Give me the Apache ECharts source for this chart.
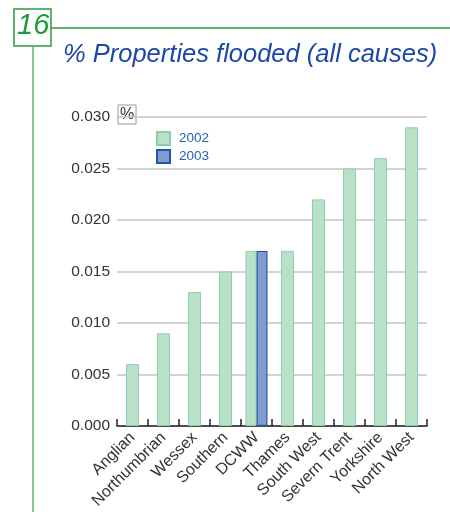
<!DOCTYPE html>
<html><head><meta charset="utf-8">
<script src="https://cdn.jsdelivr.net/npm/echarts@6/dist/echarts.min.js"></script>
<style>html,body{margin:0;padding:0;background:#fff}#c{width:450px;height:515px}</style>
</head><body><div id="c"></div>
<script>
const categories = ['Anglian','Northumbrian','Wessex','Southern','DCWW','Thames','South West','Severn Trent','Yorkshire','North West'];
const values2002 = [0.006, 0.009, 0.013, 0.015, 0.017, 0.017, 0.022, 0.025, 0.026, 0.029];
const values2003 = [null, null, null, null, 0.017, null, null, null, null, null];
const yTicks = [0, 0.005, 0.010, 0.015, 0.020, 0.025, 0.030];

// 2002 bars for categories without a 2003 value are centred; paired ones sit beside the 2003 bar
const single2002 = values2002.map((v, i) => values2003[i] == null ? v : null);
const paired2002 = values2002.map((v, i) => values2003[i] != null ? v : null);

const green = '#b9e1c9', greenB = '#8cd0a8', blue = '#7f9bd0', blueB = '#1b5aa5';
const chart = echarts.init(document.getElementById('c'), null, {renderer: 'canvas'});
chart.setOption({
  animation: false,
  title: {
    text: '% Properties flooded (all causes)',
    left: 58, top: 37,
    textStyle: {fontFamily: 'Liberation Sans', fontStyle: 'italic', fontWeight: 'normal', fontSize: 25.5, color: '#1c46a8'}
  },
  legend: {
    data: [{name: '2002'}, {name: '2003'}],
    orient: 'vertical', left: 151, top: 126, itemWidth: 13, itemHeight: 13, itemGap: 3,
    icon: 'rect',
    textStyle: {fontFamily: 'Liberation Sans', fontSize: 13.5, color: '#2a62b0', padding: [0, 0, 0, 4]}
  },
  grid: {left: 117, right: 23, top: 117, bottom: 89},
  xAxis: [{
    type: 'category', data: categories,
    axisLine: {show: true, lineStyle: {color: '#222', width: 1.5}},
    axisTick: {show: true, inside: true, length: 7, interval: 0, lineStyle: {color: '#222', width: 1.5}},
    axisLabel: {rotate: 45, fontFamily: 'Liberation Sans', fontSize: 16, color: '#333', margin: 9, interval: 0}
  }, {
    type: 'category', data: categories, show: false
  }],
  yAxis: {
    type: 'value', min: 0, max: 0.030, interval: 0.005,
    axisLine: {show: false}, axisTick: {show: false},
    splitLine: {lineStyle: {color: '#c4c4c4', width: 1.5}},
    axisLabel: {formatter: v => v.toFixed(3), fontFamily: 'Liberation Sans', fontSize: 15.5, color: '#333', margin: 7}
  },
  series: [
    {name: '2002', type: 'bar', xAxisIndex: 0, data: single2002, barWidth: 13, z: 1,
     itemStyle: {color: green, borderColor: greenB, borderWidth: 1}},
    {name: '2002', type: 'bar', xAxisIndex: 1, data: paired2002, barWidth: 11, barGap: '0%', z: 1,
     itemStyle: {color: green, borderColor: greenB, borderWidth: 1}},
    {name: '2003', type: 'bar', xAxisIndex: 1, data: values2003, barWidth: 11, barGap: '0%', z: 1,
     itemStyle: {color: blue, borderColor: blueB, borderWidth: 1.2}}
  ],
  graphic: [
    {type: 'rect', shape: {x: 14, y: 9, width: 37, height: 37}, style: {fill: '#fff', stroke: '#2a9a44', lineWidth: 1.5}},
    {type: 'text', left: 17, top: 11, style: {text: '16', fontFamily: 'Liberation Sans', fontStyle: 'italic', fontSize: 29, fill: '#1f9a3c'}},
    {type: 'line', shape: {x1: 51, y1: 28, x2: 450, y2: 28}, style: {stroke: '#2a9a44', lineWidth: 1.5}},
    {type: 'line', shape: {x1: 33, y1: 46, x2: 33, y2: 512}, style: {stroke: '#5ab870', lineWidth: 1.5}},
    {type: 'rect', shape: {x: 118, y: 105, width: 18, height: 19}, style: {fill: '#fff', stroke: '#999', lineWidth: 1}},
    {type: 'text', x: 127, y: 115, style: {text: '%', fontFamily: 'Liberation Sans', fontSize: 16, fill: '#333', align: 'center', verticalAlign: 'middle'}}
  ]
});
</script></body></html>
